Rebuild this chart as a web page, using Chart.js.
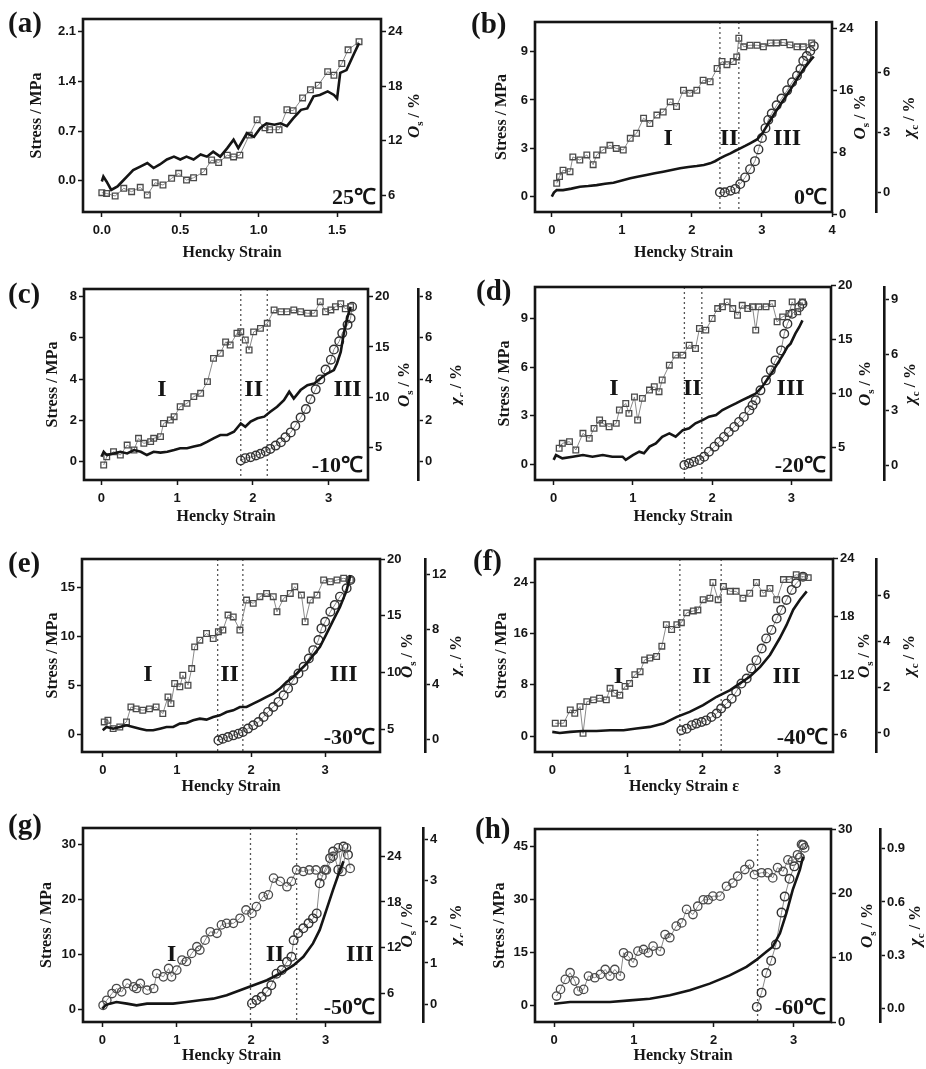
<!DOCTYPE html>
<html>
<head>
<meta charset="utf-8">
<script src="https://cdn.jsdelivr.net/npm/chart.js@4.4.1/dist/chart.umd.min.js"></script>
<style>
  body { margin: 0; background: #fff; width: 926px; height: 1069px; position: relative; overflow: hidden; }
  canvas { position: absolute; }
</style>
</head>
<body>
<script>
// ---- data: [Hencky strain, value] ----
var stressA = [[0,-0.01],[0.01,0.06],[0.03,-0.01],[0.06,-0.13],[0.10,-0.08],[0.13,-0.01],[0.16,0.06],[0.20,0.15],[0.245,0.20],[0.29,0.25],[0.33,0.18],[0.37,0.23],[0.415,0.30],[0.46,0.34],[0.50,0.30],[0.54,0.34],[0.585,0.30],[0.63,0.37],[0.67,0.34],[0.71,0.41],[0.755,0.34],[0.80,0.46],[0.84,0.58],[0.87,0.46],[0.925,0.67],[0.97,0.62],[1.01,0.74],[1.05,0.81],[1.10,0.79],[1.14,0.81],[1.18,0.77],[1.22,0.88],[1.27,1.00],[1.31,1.02],[1.35,1.19],[1.39,1.21],[1.44,1.26],[1.48,1.21],[1.50,1.16],[1.52,1.52],[1.56,1.56],[1.61,1.80],[1.64,1.94]];
var osA = [[0,6.26],[0.03,6.18],[0.085,5.89],[0.14,6.74],[0.19,6.37],[0.245,6.85],[0.29,6.0],[0.34,7.36],[0.39,7.1],[0.445,7.84],[0.49,8.39],[0.54,7.65],[0.585,7.9],[0.65,8.57],[0.70,9.86],[0.745,9.57],[0.80,10.4],[0.84,10.2],[0.88,10.4],[0.94,12.6],[0.99,14.3],[1.04,13.4],[1.07,13.2],[1.13,13.2],[1.18,15.4],[1.22,15.3],[1.28,16.7],[1.33,17.6],[1.38,18.1],[1.44,19.6],[1.48,19.2],[1.53,20.5],[1.57,22.0],[1.64,22.9]];

var stressB = [[0,0],[0.03,0.25],[0.07,0.41],[0.16,0.41],[0.28,0.5],[0.40,0.62],[0.52,0.66],[0.64,0.72],[0.76,0.8],[0.88,0.87],[1.0,1.0],[1.12,1.14],[1.24,1.25],[1.35,1.35],[1.47,1.45],[1.59,1.55],[1.71,1.66],[1.83,1.76],[1.95,1.84],[2.07,1.9],[2.17,1.97],[2.26,2.07],[2.33,2.2],[2.40,2.38],[2.47,2.53],[2.55,2.69],[2.62,2.85],[2.69,3.0],[2.76,3.15],[2.83,3.31],[2.93,3.55],[3.0,3.9],[3.1,4.6],[3.2,5.3],[3.3,5.95],[3.4,6.6],[3.5,7.3],[3.6,7.95],[3.7,8.5],[3.74,8.7]];
var osB = [[0.07,4.0],[0.11,4.86],[0.16,5.7],[0.26,5.5],[0.30,7.4],[0.40,7.0],[0.50,7.66],[0.59,6.4],[0.64,7.66],[0.73,8.3],[0.83,8.9],[0.92,8.5],[1.02,8.3],[1.12,9.8],[1.21,10.45],[1.31,12.4],[1.40,11.7],[1.50,12.8],[1.59,13.2],[1.69,14.5],[1.78,13.9],[1.88,16.0],[1.97,15.6],[2.07,16.0],[2.16,17.3],[2.26,17.1],[2.36,18.8],[2.43,19.7],[2.50,19.3],[2.59,19.7],[2.64,20.3],[2.67,22.7],[2.74,21.6],[2.83,21.8],[2.93,21.8],[3.02,21.6],[3.12,22.1],[3.21,22.1],[3.31,22.15],[3.40,21.85],[3.50,21.6],[3.59,21.6],[3.71,22.1]];
var chiB = [[2.40,0.03],[2.47,0.03],[2.55,0.11],[2.62,0.2],[2.69,0.44],[2.76,0.77],[2.83,1.18],[2.90,1.58],[2.95,2.16],[3.0,2.73],[3.05,3.22],[3.09,3.63],[3.14,3.95],[3.21,4.36],[3.28,4.69],[3.36,5.1],[3.43,5.5],[3.50,5.83],[3.55,6.16],[3.59,6.57],[3.64,6.81],[3.69,7.06],[3.74,7.3]];

var stressC = [[0,0.24],[0.03,0.48],[0.07,0.32],[0.16,0.4],[0.25,0.48],[0.34,0.4],[0.43,0.56],[0.52,0.48],[0.60,0.32],[0.69,0.48],[0.78,0.44],[0.87,0.48],[0.96,0.56],[1.04,0.65],[1.13,0.65],[1.22,0.73],[1.31,0.81],[1.40,0.97],[1.48,1.13],[1.57,1.29],[1.66,1.29],[1.75,1.45],[1.84,1.85],[1.90,1.69],[1.97,1.94],[2.06,2.1],[2.15,2.18],[2.23,2.42],[2.32,2.66],[2.41,2.98],[2.48,3.39],[2.54,3.06],[2.63,3.47],[2.72,3.71],[2.81,3.79],[2.89,4.03],[2.98,4.27],[3.07,4.44],[3.11,4.76],[3.16,5.32],[3.20,6.21],[3.25,7.02],[3.29,7.5]];
var osC = [[0.03,3.28],[0.07,4.1],[0.16,4.6],[0.25,4.27],[0.34,5.26],[0.43,4.77],[0.49,5.93],[0.56,5.43],[0.65,5.6],[0.69,5.93],[0.78,6.1],[0.82,7.4],[0.91,7.75],[0.96,8.08],[1.04,9.07],[1.13,9.4],[1.22,10.07],[1.31,10.4],[1.40,11.56],[1.48,13.87],[1.57,14.37],[1.64,15.5],[1.70,15.2],[1.79,16.36],[1.84,16.52],[1.90,15.7],[1.95,14.7],[2.01,16.5],[2.10,16.85],[2.19,17.35],[2.28,18.68],[2.37,18.5],[2.45,18.5],[2.54,18.68],[2.63,18.5],[2.72,18.35],[2.81,18.35],[2.89,19.5],[2.96,18.5],[3.03,18.68],[3.09,19.0],[3.16,19.3],[3.22,18.8],[3.29,19.0]];
var chiC = [[1.84,0.05],[1.90,0.16],[1.97,0.21],[2.04,0.29],[2.10,0.37],[2.17,0.48],[2.23,0.61],[2.30,0.77],[2.37,0.93],[2.43,1.17],[2.50,1.41],[2.56,1.73],[2.63,2.13],[2.70,2.54],[2.76,3.02],[2.83,3.5],[2.89,3.98],[2.96,4.46],[3.03,4.94],[3.07,5.43],[3.14,5.83],[3.18,6.23],[3.25,6.63],[3.29,6.95],[3.31,7.51]];

var stressD = [[0,0.27],[0.03,0.57],[0.11,0.37],[0.24,0.47],[0.37,0.57],[0.49,0.47],[0.62,0.57],[0.74,0.47],[0.87,0.47],[0.91,0.27],[1.0,0.57],[1.08,0.78],[1.14,0.68],[1.21,1.09],[1.29,1.29],[1.37,1.7],[1.46,1.91],[1.54,1.7],[1.63,2.11],[1.71,2.22],[1.79,2.53],[1.88,2.73],[1.96,2.94],[2.05,3.04],[2.13,3.35],[2.21,3.55],[2.30,3.76],[2.38,3.96],[2.47,4.17],[2.55,4.37],[2.63,4.78],[2.72,5.4],[2.80,6.02],[2.89,6.73],[2.95,7.25],[2.99,7.45],[3.05,8.07],[3.10,8.48],[3.14,8.89]];
var osD = [[0.07,4.94],[0.11,5.4],[0.20,5.56],[0.28,4.78],[0.37,6.33],[0.45,5.86],[0.51,6.79],[0.58,7.56],[0.62,7.25],[0.70,6.94],[0.79,7.25],[0.83,8.49],[0.91,9.1],[0.95,8.18],[1.02,9.7],[1.06,7.56],[1.12,9.57],[1.21,10.34],[1.27,10.65],[1.33,10.19],[1.37,11.27],[1.46,12.65],[1.54,13.58],[1.63,13.58],[1.71,14.5],[1.79,14.2],[1.84,16.05],[1.92,15.9],[2.0,16.98],[2.07,17.9],[2.13,18.06],[2.19,18.52],[2.26,17.9],[2.32,17.28],[2.38,18.2],[2.45,17.9],[2.51,18.06],[2.55,15.9],[2.59,18.06],[2.68,18.06],[2.76,18.37],[2.82,16.67],[2.89,17.13],[2.97,17.44],[3.01,18.52],[3.08,17.6],[3.14,18.52]];
var chiD = [[1.65,0.04],[1.71,0.13],[1.77,0.22],[1.84,0.31],[1.90,0.49],[1.96,0.76],[2.03,1.03],[2.09,1.29],[2.15,1.56],[2.21,1.83],[2.28,2.1],[2.34,2.37],[2.40,2.64],[2.47,3.0],[2.51,3.27],[2.55,3.54],[2.61,4.08],[2.68,4.62],[2.74,5.16],[2.80,5.7],[2.87,6.24],[2.91,7.14],[2.95,7.68],[3.01,8.22],[3.10,8.58],[3.14,8.76]];

var stressE = [[0,0.44],[0.05,0.78],[0.14,0.61],[0.23,0.78],[0.32,0.95],[0.41,0.78],[0.50,0.61],[0.59,0.44],[0.68,0.44],[0.77,0.61],[0.86,0.78],[0.95,0.78],[1.04,1.12],[1.13,1.19],[1.22,1.46],[1.31,1.63],[1.40,1.53],[1.49,1.8],[1.58,1.97],[1.67,2.31],[1.76,2.48],[1.85,2.82],[1.94,2.82],[2.03,3.16],[2.12,3.5],[2.21,3.84],[2.30,4.18],[2.39,4.69],[2.48,5.37],[2.57,5.88],[2.66,6.56],[2.75,7.24],[2.84,8.1],[2.93,8.95],[3.02,10.3],[3.11,11.67],[3.20,13.0],[3.29,14.7],[3.34,16.26]];
var osE = [[0.02,5.65],[0.07,5.8],[0.14,5.06],[0.23,5.2],[0.32,5.65],[0.38,6.97],[0.45,6.8],[0.54,6.68],[0.63,6.8],[0.72,6.97],[0.81,6.38],[0.88,7.85],[0.92,7.26],[0.97,9.03],[1.04,8.74],[1.08,9.76],[1.15,8.88],[1.20,10.35],[1.24,12.26],[1.31,12.85],[1.40,13.44],[1.49,13.0],[1.56,13.6],[1.62,13.74],[1.69,15.06],[1.76,14.9],[1.85,13.74],[1.94,16.38],[2.03,16.09],[2.12,16.68],[2.21,16.97],[2.30,16.68],[2.35,15.35],[2.44,16.53],[2.53,16.97],[2.59,17.56],[2.68,16.82],[2.73,14.47],[2.80,16.38],[2.89,16.82],[2.98,18.15],[3.07,18.0],[3.16,18.15],[3.25,18.3],[3.34,18.15]];
var chiE = [[1.56,-0.07],[1.62,0.05],[1.69,0.17],[1.76,0.29],[1.83,0.41],[1.89,0.53],[1.96,0.78],[2.03,1.02],[2.10,1.26],[2.17,1.63],[2.23,1.99],[2.30,2.35],[2.37,2.72],[2.44,3.2],[2.50,3.69],[2.57,4.3],[2.64,4.78],[2.71,5.27],[2.78,5.87],[2.84,6.48],[2.91,7.21],[2.95,8.06],[3.0,8.54],[3.07,9.27],[3.13,9.76],[3.20,10.36],[3.29,10.97],[3.34,11.58]];

var stressF = [[0,0.68],[0.10,0.52],[0.24,0.68],[0.41,0.83],[0.59,0.83],[0.77,0.94],[0.95,0.94],[1.12,1.2],[1.30,1.46],[1.48,1.98],[1.66,3.02],[1.83,3.8],[2.01,4.84],[2.19,6.15],[2.37,7.19],[2.50,8.23],[2.63,9.27],[2.77,10.8],[2.90,12.66],[3.03,15.26],[3.12,17.3],[3.21,19.7],[3.30,21.25],[3.39,22.55]];
var osF = [[0.04,7.13],[0.15,7.13],[0.24,8.5],[0.30,8.15],[0.37,8.83],[0.41,6.1],[0.46,9.34],[0.55,9.52],[0.63,9.69],[0.72,9.52],[0.77,10.7],[0.83,10.2],[0.90,10.0],[0.97,10.9],[1.03,11.2],[1.10,12.1],[1.17,12.4],[1.23,13.6],[1.30,13.8],[1.39,13.95],[1.46,15.0],[1.52,17.2],[1.59,16.7],[1.66,17.2],[1.72,17.4],[1.79,18.4],[1.88,18.6],[1.94,18.7],[2.01,19.75],[2.10,19.9],[2.14,21.5],[2.21,19.75],[2.28,21.1],[2.37,20.6],[2.45,20.6],[2.54,19.9],[2.63,20.4],[2.72,21.5],[2.81,20.4],[2.90,20.9],[2.99,19.75],[3.08,21.8],[3.16,21.8],[3.25,22.3],[3.34,22.1],[3.41,22.0]];
var chiF = [[1.72,0.12],[1.79,0.19],[1.86,0.34],[1.92,0.41],[1.99,0.48],[2.05,0.55],[2.12,0.7],[2.19,0.85],[2.25,1.07],[2.32,1.28],[2.39,1.5],[2.45,1.8],[2.52,2.16],[2.59,2.38],[2.65,2.82],[2.72,3.18],[2.79,3.69],[2.85,4.13],[2.92,4.5],[2.99,5.0],[3.05,5.37],[3.12,5.81],[3.19,6.25],[3.25,6.54],[3.34,6.83]];

var stressG = [[0,0.12],[0.04,0.73],[0.10,1.04],[0.19,1.34],[0.33,1.04],[0.46,0.73],[0.60,1.04],[0.77,1.04],[0.95,1.04],[1.13,1.34],[1.31,1.65],[1.49,1.95],[1.67,2.56],[1.85,3.48],[2.03,4.39],[2.21,5.3],[2.39,6.52],[2.57,8.05],[2.70,9.57],[2.83,12.0],[2.92,14.45],[3.01,18.1],[3.10,21.8],[3.17,24.5],[3.24,26.95]];
var osG = [[0.01,4.46],[0.06,5.12],[0.13,6.0],[0.19,6.66],[0.26,6.22],[0.33,7.32],[0.42,6.88],[0.46,6.66],[0.51,7.32],[0.60,6.44],[0.69,6.66],[0.73,8.63],[0.82,8.19],[0.89,9.29],[0.93,8.19],[1.0,9.07],[1.07,10.4],[1.13,10.2],[1.20,11.26],[1.27,12.14],[1.31,11.7],[1.38,13.0],[1.45,14.1],[1.54,13.9],[1.60,15.0],[1.67,15.2],[1.76,15.2],[1.85,15.87],[1.93,16.96],[2.01,16.5],[2.07,17.4],[2.16,18.7],[2.23,18.94],[2.30,21.13],[2.39,20.7],[2.48,20.0],[2.54,20.7],[2.61,22.2],[2.70,22.0],[2.78,22.2],[2.87,22.2],[2.95,21.35],[3.01,22.2],[3.10,24.0],[3.17,25.1],[3.22,22.0],[3.28,25.1],[3.33,22.4]];
var chiG = [[2.01,0.02],[2.07,0.1],[2.14,0.18],[2.21,0.3],[2.27,0.46],[2.34,0.74],[2.41,0.83],[2.48,1.03],[2.54,1.15],[2.57,1.55],[2.63,1.72],[2.70,1.84],[2.77,1.96],[2.83,2.08],[2.88,2.2],[2.92,2.93],[2.99,3.26],[3.06,3.54],[3.10,3.7],[3.17,3.26],[3.24,3.82],[3.30,3.62]];

var stressH = [[0,0.47],[0.2,0.95],[0.45,0.95],[0.70,0.95],[0.95,1.42],[1.2,1.9],[1.45,2.84],[1.70,4.26],[1.95,6.16],[2.2,8.5],[2.41,10.9],[2.53,12.8],[2.66,15.15],[2.74,16.6],[2.83,20.4],[2.91,26.0],[2.99,32.7],[3.08,38.4],[3.12,42.1]];
var osH = [[0.03,4.03],[0.08,5.07],[0.14,6.62],[0.20,7.66],[0.26,6.36],[0.30,4.81],[0.37,5.07],[0.43,7.14],[0.51,6.88],[0.58,7.4],[0.64,8.17],[0.70,7.14],[0.76,8.17],[0.83,7.14],[0.87,10.76],[0.93,10.24],[0.99,9.21],[1.05,11.02],[1.12,11.28],[1.18,10.76],[1.24,11.8],[1.33,11.0],[1.39,13.6],[1.45,13.1],[1.53,14.9],[1.60,15.4],[1.66,17.5],[1.74,16.7],[1.80,18.0],[1.87,19.0],[1.93,19.0],[1.99,19.56],[2.08,19.56],[2.16,21.1],[2.24,21.6],[2.30,22.66],[2.39,23.7],[2.45,24.5],[2.51,22.9],[2.60,23.2],[2.68,23.2],[2.74,22.4],[2.80,24.0],[2.87,23.4],[2.93,25.2],[2.99,25.0],[3.05,26.0],[3.10,27.6],[3.14,27.06]];
var chiH = [[2.54,0.01],[2.60,0.09],[2.66,0.2],[2.72,0.27],[2.78,0.36],[2.85,0.54],[2.89,0.63],[2.95,0.73],[3.01,0.8],[3.08,0.85],[3.12,0.92]];

// region boundaries (dotted lines), strain
var boundsB = [2.40, 2.67];
var boundsC = [1.84, 2.19];
var boundsD = [1.65, 1.87];
var boundsE = [1.55, 1.89];
var boundsF = [1.70, 2.25];
var boundsG = [1.99, 2.61];
var boundsH = [2.55];

// tick values
var strainTicksA = [0, 0.5, 1, 1.5];
var strainTicks4 = [0, 1, 2, 3, 4];
var strainTicks3 = [0, 1, 2, 3];
var stressTicks = [[0, 0.7, 1.4, 2.1], [0, 3, 6, 9], [0, 2, 4, 6, 8], [0, 3, 6, 9], [0, 5, 10, 15], [0, 8, 16, 24], [0, 10, 20, 30], [0, 15, 30, 45]];
var osTicks = [[6, 12, 18, 24], [0, 8, 16, 24], [5, 10, 15, 20], [5, 10, 15, 20], [5, 10, 15, 20], [6, 12, 18, 24], [6, 12, 18, 24], [0, 10, 20, 30]];
var chiTicks = [null, [0, 3, 6], [0, 2, 4, 6, 8], [0, 3, 6, 9], [0, 4, 8, 12], [0, 2, 4, 6], [0, 1, 2, 3, 4], [0, 0.3, 0.6, 0.9]];

var letters = ['(a)', '(b)', '(c)', '(d)', '(e)', '(f)', '(g)', '(h)'];
var temperatures = ['25\u2103', '0\u2103', '-10\u2103', '-20\u2103', '-30\u2103', '-40\u2103', '-50\u2103', '-60\u2103'];
var xTitles = ['Hencky Strain', 'Hencky Strain', 'Hencky Strain', 'Hencky Strain', 'Hencky Strain', 'Hencky Strain \u03b5', 'Hencky Strain', 'Hencky Strain'];

var panels = [
  {stress: stressA, os: osA, chi: null, bounds: [], xt: strainTicksA, x: [-0.12, 1.78], s: [-0.44, 2.28], o: [4.13, 25.4], c: null, dec: 1, cdec: 0, osMark: 'rect', regions: []},
  {stress: stressB, os: osB, chi: chiB, bounds: boundsB, xt: strainTicks4, x: [-0.24, 4.0], s: [-0.95, 10.84], o: [0.3, 24.8], c: [-0.95, 8.5], dec: 0, cdec: 0, osMark: 'rect', regions: [[1.66, 3.6], [2.53, 3.6], [3.36, 3.6]]},
  {stress: stressC, os: osC, chi: chiC, bounds: boundsC, xt: strainTicks3, x: [-0.23, 3.52], s: [-0.89, 8.37], o: [1.79, 20.76], c: [-0.9, 8.37], dec: 0, cdec: 0, osMark: 'rect', regions: [[0.80, 3.47], [2.01, 3.47], [3.25, 3.47]]},
  {stress: stressD, os: osD, chi: chiD, bounds: boundsD, xt: strainTicks3, x: [-0.235, 3.5], s: [-0.97, 10.95], o: [2.0, 19.9], c: [-0.77, 9.67], dec: 0, cdec: 0, osMark: 'rect', regions: [[0.76, 4.68], [1.75, 4.68], [2.99, 4.68]]},
  {stress: stressE, os: osE, chi: chiE, bounds: boundsE, xt: strainTicks3, x: [-0.28, 3.74], s: [-1.77, 17.9], o: [3.0, 20.0], c: [-0.92, 13.1], dec: 0, cdec: 0, osMark: 'rect', regions: [[0.61, 6.05], [1.71, 6.05], [3.25, 6.05]]},
  {stress: stressF, os: osF, chi: chiF, bounds: boundsF, xt: strainTicks3, x: [-0.23, 3.74], s: [-2.45, 27.6], o: [4.2, 23.9], c: [-0.83, 7.6], dec: 0, cdec: 0, osMark: 'rect', regions: [[0.88, 9.27], [1.99, 9.27], [3.12, 9.27]]},
  {stress: stressG, os: osG, chi: chiG, bounds: boundsG, xt: strainTicks3, x: [-0.26, 3.73], s: [-2.3, 33.0], o: [2.27, 27.7], c: [-0.43, 4.27], dec: 0, cdec: 0, osMark: 'circle', regions: [[0.93, 9.88], [2.32, 9.88], [3.46, 9.88]]},
  {stress: stressH, os: osH, chi: chiH, bounds: boundsH, xt: strainTicks3, x: [-0.24, 3.47], s: [-4.7, 49.9], o: [0, 30], c: [-0.075, 1.01], dec: 0, cdec: 1, osMark: 'circle', regions: []}
];

// page geometry of each panel (px)
var layouts = [
  {cell: [0, 0], box: [83, 19, 381, 212], yTitleX: 37, osTitleX: 415, chiLine: null, chiTitleX: null, xTitleY: 253, letter: [8, 32]},
  {cell: [463, 0], box: [535, 22, 832, 212], yTitleX: 502, osTitleX: 861, chiLine: 876, chiTitleX: 910, xTitleY: 253, letter: [471, 33]},
  {cell: [0, 270], box: [84, 289, 368, 480], yTitleX: 53, osTitleX: 405, chiLine: 418, chiTitleX: 457, xTitleY: 517, letter: [8, 303]},
  {cell: [463, 270], box: [535, 287, 831, 480], yTitleX: 505, osTitleX: 866, chiLine: 884, chiTitleX: 911, xTitleY: 517, letter: [476, 300]},
  {cell: [0, 540], box: [82, 559, 380, 752], yTitleX: 53, osTitleX: 408, chiLine: 425, chiTitleX: 457, xTitleY: 787, letter: [8, 572]},
  {cell: [463, 540], box: [535, 559, 833, 752], yTitleX: 502, osTitleX: 865, chiLine: 876, chiTitleX: 910, xTitleY: 787, letter: [473, 570]},
  {cell: [0, 800], box: [83, 828, 380, 1022], yTitleX: 47, osTitleX: 408, chiLine: 423, chiTitleX: 457, xTitleY: 1056, letter: [8, 834]},
  {cell: [463, 800], box: [535, 829, 831, 1022], yTitleX: 500, osTitleX: 868, chiLine: 880, chiTitleX: 916, xTitleY: 1056, letter: [475, 838]}
];

var CELL_W = 463, CELL_H = 275;
var SERIF = '"Liberation Serif", "Times New Roman", serif';
var SANS = '"Liberation Sans", Arial, sans-serif';
var INK = '#151515';
var TITLE_OFF = 4 + 16 * 1.2 / 2;   // chart.js title offset for a 16px title

function pts(arr) {
  return arr.map(function (p) { return {x: p[0], y: p[1]}; });
}
function fixW(w) { return function (s) { s.width = w; }; }
function fixH(h) { return function (s) { s.height = h; }; }
function setTicks(vals) {
  return function (s) { s.ticks = vals.map(function (v) { return {value: v}; }); };
}
function fmt(dec) {
  return function (v) { return dec ? Number(v).toFixed(dec) : String(v); };
}
function tickGrid() {
  return {display: true, drawOnChartArea: false, drawTicks: true, tickLength: 5, tickWidth: 1.5, tickColor: INK};
}
function tickFont() {
  return {family: SANS, size: 13, weight: 'bold'};
}

// rotated title with italic symbol and subscript, reading bottom to top
function drawRotTitle(ctx, x, yc, sym, sub) {
  ctx.save();
  ctx.translate(x, yc);
  ctx.rotate(-Math.PI / 2);
  ctx.fillStyle = INK;
  ctx.textBaseline = 'middle';
  ctx.textAlign = 'left';
  var f1 = 'italic bold 17px ' + SERIF, f2 = 'bold 11px ' + SERIF, f3 = 'bold 16px ' + SERIF;
  ctx.font = f1; var w1 = ctx.measureText(sym).width;
  ctx.font = f2; var w2 = ctx.measureText(sub).width;
  ctx.font = f3; var w3 = ctx.measureText(' / %').width;
  var x0 = -(w1 + w2 + w3) / 2;
  ctx.font = f1; ctx.fillText(sym, x0, 0);
  ctx.font = f2; ctx.fillText(sub, x0 + w1, 5);
  ctx.font = f3; ctx.fillText(' / %', x0 + w1 + w2, 0);
  ctx.restore();
}

var decoPlugin = {
  id: 'deco',
  beforeDatasetsDraw: function (chart, args, o) {
    var ctx = chart.ctx, a = chart.chartArea, xs = chart.scales.x;
    ctx.save();
    ctx.strokeStyle = '#555';
    ctx.lineWidth = 1.3;
    ctx.setLineDash([2, 3]);
    o.bounds.forEach(function (b) {
      var px = xs.getPixelForValue(b);
      ctx.beginPath();
      ctx.moveTo(px, a.top);
      ctx.lineTo(px, a.bottom);
      ctx.stroke();
    });
    ctx.restore();
  },
  afterDraw: function (chart, args, o) {
    var ctx = chart.ctx, a = chart.chartArea;
    var xs = chart.scales.x, ys = chart.scales.y;
    ctx.save();
    // plot frame
    ctx.strokeStyle = INK;
    ctx.lineWidth = 2.6;
    ctx.strokeRect(a.left, a.top, a.right - a.left, a.bottom - a.top);
    ctx.fillStyle = INK;
    // panel letter
    ctx.font = 'bold 29px ' + SERIF;
    ctx.textAlign = 'left';
    ctx.textBaseline = 'alphabetic';
    ctx.fillText(o.letter, o.letterPos[0], o.letterPos[1]);
    // temperature
    ctx.font = 'bold 22px ' + SERIF;
    ctx.textAlign = 'right';
    ctx.fillText(o.temp, a.right - 5, a.bottom - 8);
    // region labels
    ctx.font = 'bold 24px ' + SERIF;
    ctx.textAlign = 'center';
    ctx.textBaseline = 'middle';
    var names = ['I', 'II', 'III'];
    o.regions.forEach(function (r, k) {
      ctx.fillText(names[k], xs.getPixelForValue(r[0]), ys.getPixelForValue(r[1]));
    });
    ctx.restore();
    var yc = (a.top + a.bottom) / 2;
    drawRotTitle(ctx, o.osTitleX, yc, 'O', 's');
    if (o.chiTitleX !== null) drawRotTitle(ctx, o.chiTitleX, yc, '\u03c7', 'c');
  }
};

panels.forEach(function (p, i) {
  var L = layouts[i];
  var cx = L.cell[0], cy = L.cell[1];
  var cv = document.createElement('canvas');
  cv.width = CELL_W;
  cv.height = CELL_H;
  cv.style.left = cx + 'px';
  cv.style.top = cy + 'px';
  document.body.appendChild(cv);

  var titleLeft = L.yTitleX - TITLE_OFF;
  var xBottom = L.xTitleY + TITLE_OFF;
  var osW = (L.chiLine !== null ? L.chiLine : cx + CELL_W) - L.box[2];

  var datasets = [
    {label: 'Stress', data: pts(p.stress), yAxisID: 'y', borderColor: INK, borderWidth: 2.6,
     pointRadius: 0, tension: 0, order: 0},
    {label: 'Os', data: pts(p.os), yAxisID: 'os', borderColor: '#8a8a8a', borderWidth: 1,
     pointStyle: p.osMark, pointRadius: p.osMark === 'rect' ? 4 : 4.2, pointBorderColor: '#4a4a4a', pointBorderWidth: 1.3,
     pointBackgroundColor: 'rgba(255,255,255,0)', tension: 0, order: 1}
  ];
  if (p.chi) {
    datasets.push({label: 'Chi', data: pts(p.chi), yAxisID: 'chi', borderColor: '#8a8a8a', borderWidth: 1,
      pointStyle: 'circle', pointRadius: 4.3, pointBorderColor: '#333', pointBorderWidth: 1.4,
      pointBackgroundColor: 'rgba(255,255,255,0)', tension: 0, order: 1});
  }

  var scales = {
    x: {
      type: 'linear', position: 'bottom', min: p.x[0], max: p.x[1],
      afterBuildTicks: setTicks(p.xt), afterFit: fixH(xBottom - L.box[3]),
      ticks: {callback: fmt(p.dec), font: tickFont(), color: INK, padding: 6, autoSkip: false, maxRotation: 0},
      grid: tickGrid(), border: {display: false},
      title: {display: true, text: xTitles[i], color: INK, padding: 4, font: {family: SERIF, size: 16, weight: 'bold'}}
    },
    y: {
      type: 'linear', position: 'left', min: p.s[0], max: p.s[1],
      afterBuildTicks: setTicks(stressTicks[i]), afterFit: fixW(L.box[0] - titleLeft),
      ticks: {callback: fmt(p.dec), font: tickFont(), color: INK, padding: 2, autoSkip: false},
      grid: tickGrid(), border: {display: false},
      title: {display: true, text: 'Stress / MPa', color: INK, padding: 4, font: {family: SERIF, size: 16, weight: 'bold'}}
    },
    os: {
      type: 'linear', position: 'right', weight: 0, min: p.o[0], max: p.o[1],
      afterBuildTicks: setTicks(osTicks[i]), afterFit: fixW(osW),
      ticks: {font: tickFont(), color: INK, padding: 2, autoSkip: false},
      grid: tickGrid(), border: {display: false}
    }
  };
  if (p.chi) {
    scales.chi = {
      type: 'linear', position: 'right', weight: 1, min: p.c[0], max: p.c[1],
      afterBuildTicks: setTicks(chiTicks[i]), afterFit: fixW(cx + CELL_W - L.chiLine),
      ticks: {callback: fmt(p.cdec), font: tickFont(), color: INK, padding: 2, autoSkip: false},
      grid: tickGrid(), border: {display: true, color: INK, width: 2.6}
    };
  }

  new Chart(cv.getContext('2d'), {
    type: 'line',
    data: {datasets: datasets},
    options: {
      responsive: false,
      animation: false,
      layout: {padding: {left: titleLeft - cx, top: L.box[1] - cy, right: 0, bottom: Math.max(0, cy + CELL_H - xBottom)}},
      plugins: {
        legend: {display: false},
        tooltip: {enabled: false},
        deco: {
          letter: letters[i], letterPos: [L.letter[0] - cx, L.letter[1] - cy],
          temp: temperatures[i], bounds: p.bounds, regions: p.regions,
          osTitleX: L.osTitleX - cx, chiTitleX: L.chiTitleX !== null ? L.chiTitleX - cx : null
        }
      },
      scales: scales
    },
    plugins: [decoPlugin]
  });
});
</script>
</body>
</html>
